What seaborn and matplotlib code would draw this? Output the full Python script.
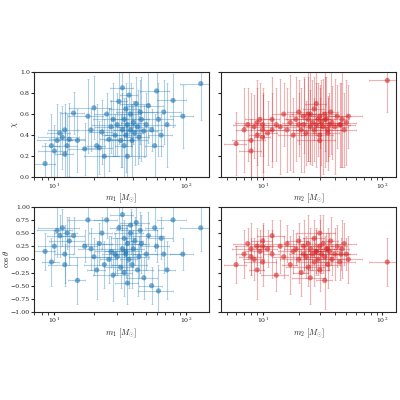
import matplotlib
matplotlib.use("Agg")
import matplotlib.pyplot as plt
import seaborn as sns
import numpy as np

sns.set_style("ticks")
plt.rcParams['font.family'] = ['DejaVu Serif']
plt.rcParams['mathtext.fontset'] = 'cm'

m1 = [8.5,9.5,10,10.5,11,11.5,12,12,12.5,13,14,15,17,18,19,20,21,22,23,24,25,26,27,28,29,30,31,32,33,33,
      34,34,35,35,36,36,37,38,38,39,40,41,42,43,44,45,46,48,50,52,55,58,60,62,65,68,72,80,95,130]
m2 = [6,7,7.5,8,8.5,9,9,9.5,10,10,11,12,13,14,15,16,17,18,19,20,20,21,22,22,23,24,24,25,26,27,
      27,28,29,30,30,31,32,33,34,35,36,37,38,40,42,44,46,48,50,52,8,10,12,25,28,30,33,35,45,110]
chi = [0.13,0.3,0.25,0.35,0.42,0.38,0.22,0.45,0.3,0.36,0.61,0.35,0.27,0.58,0.45,0.66,0.3,0.28,0.43,0.2,
       0.6,0.36,0.48,0.55,0.4,0.5,0.72,0.35,0.85,0.45,0.55,0.3,0.65,0.4,0.5,0.2,0.78,0.45,0.6,0.35,
       0.52,0.42,0.7,0.48,0.38,0.62,0.55,0.44,0.5,0.68,0.45,0.3,0.82,0.55,0.4,0.62,0.5,0.73,0.58,0.89]
chi2 = [0.32,0.45,0.5,0.35,0.48,0.52,0.4,0.55,0.45,0.5,0.42,0.55,0.5,0.48,0.6,0.45,0.52,0.4,0.55,0.5,
        0.62,0.45,0.58,0.5,0.42,0.55,0.6,0.48,0.52,0.45,0.65,0.5,0.55,0.4,0.58,0.52,0.48,0.6,0.55,0.45,
        0.5,0.62,0.52,0.48,0.58,0.5,0.55,0.45,0.52,0.58,0.25,0.38,0.45,0.6,0.7,0.35,0.55,0.42,0.5,0.92]
cos1 = [0.15,-0.05,0.25,0.55,0.45,0.6,0.1,-0.1,0.5,0.35,0.45,-0.4,0.25,0.75,0.2,0.05,-0.2,0.3,0.5,-0.1,
        0.75,0.0,0.15,-0.3,0.1,0.05,0.6,-0.15,0.85,0.2,0.4,-0.25,0.1,0.15,-0.45,0.3,0.0,0.5,0.65,-0.1,
        0.2,0.35,0.7,-0.2,0.05,0.55,0.3,-0.35,0.1,0.45,-0.5,0.6,0.25,-0.6,0.4,0.1,-0.2,0.75,0.1,0.6]
cos2 = [-0.1,0.1,0.3,0.2,0.0,0.25,-0.2,0.15,0.35,-0.05,0.2,0.1,-0.3,0.25,0.05,0.3,-0.1,0.15,0.2,0.0,
        0.35,-0.25,0.1,0.25,0.05,-0.15,0.3,0.2,0.1,-0.05,0.4,0.15,0.0,0.25,-0.2,0.1,0.3,0.05,0.2,-0.1,
        0.15,0.35,0.0,0.1,0.25,-0.05,0.2,0.3,0.1,0.0,0.05,0.25,0.45,-0.35,0.15,0.5,-0.4,0.2,0.1,-0.05]
xfrac = [0.2,0.15,0.25,0.3,0.2,0.35,0.15,0.25,0.2,0.3]*6
chierr = [0.2,0.3,0.25,0.35,0.2,0.3,0.4,0.25,0.3,0.35]*6
chi2err = [0.3,0.4,0.35,0.45,0.3,0.4,0.45,0.35,0.4,0.3]*6
coserr = [0.35,0.45,0.3,0.5,0.4,0.35,0.55,0.4,0.3,0.45]*6

fig, axes = plt.subplots(2, 2, figsize=(4, 4), dpi=100)
fig.subplots_adjust(left=0.085, right=0.99, top=0.82, bottom=0.22, hspace=0.28, wspace=0.07)
blue, red = "#1f77b4", "#d62728"
panels = [(axes[0,0], m1, chi, chierr, blue, r"$\chi$", r"$m_1\ [M_{\odot}]$", (0, 1)),
          (axes[0,1], m2, chi2, chi2err, red, None, r"$m_2\ [M_{\odot}]$", (0, 1)),
          (axes[1,0], m1, cos1, coserr, blue, r"$\cos\theta$", r"$m_1\ [M_{\odot}]$", (-1, 1)),
          (axes[1,1], m2, cos2, coserr, red, None, r"$m_2\ [M_{\odot}]$", (-1, 1))]
for ax, x, y, ye, c, yl, xl, ylim in panels:
    x = np.array(x); xe = x*np.array(xfrac)
    ax.errorbar(x, y, xerr=xe, yerr=ye, fmt='none', color=c, alpha=0.35,
                elinewidth=0.8, capsize=1, capthick=0.5)
    sns.scatterplot(x=x, y=y, ax=ax, color=c, s=14, alpha=0.6, edgecolor='none')
    ax.set_xscale('log')
    ax.set_ylim(*ylim)
    ax.set_xlabel(xl, fontsize=6, labelpad=1)
    if yl: ax.set_ylabel(yl, fontsize=6, labelpad=0)
    ax.tick_params(labelsize=4.5, length=2, pad=1)
axes[0,0].set_xlim(7, 150); axes[1,0].set_xlim(7, 150)
axes[0,1].set_xlim(4.5, 130); axes[1,1].set_xlim(4.5, 130)
axes[0,1].set_yticklabels([]); axes[1,1].set_yticklabels([])
axes[1,0].set_yticks(np.arange(-1, 1.01, 0.25))
axes[1,1].set_yticks(np.arange(-1, 1.01, 0.25))
fig.savefig("out.png", dpi=100)
